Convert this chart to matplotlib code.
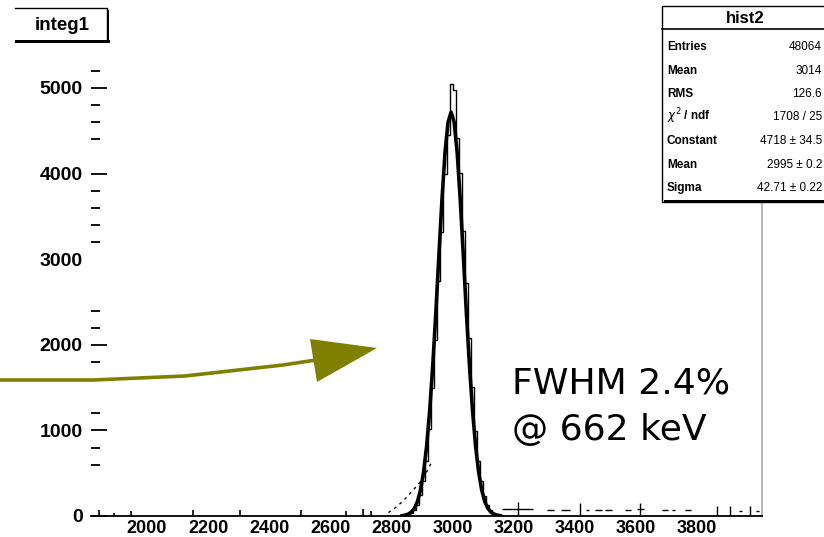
import numpy as np
import matplotlib
matplotlib.use("Agg")
import matplotlib.pyplot as plt
from matplotlib.patches import Rectangle, Polygon
from matplotlib.lines import Line2D
from matplotlib.transforms import Affine2D

# histogram hist2 (bin width 10)
hist_edges = list(range(2830, 3170, 10))
hist_counts = [10, 12, 22, 40, 70, 130, 240, 410, 640, 1020, 1500, 2060, 2740,
               3320, 3990, 4450, 5050, 4980, 4420, 4010, 3330, 2720, 2080, 1510,
               990, 640, 410, 230, 130, 70, 35, 18, 8]

# gaussian fit drawn as thick line
fit_x = [2835, 2845, 2855, 2865, 2875, 2885, 2895, 2905, 2915, 2925, 2935, 2945,
         2955, 2965, 2975, 2985, 2995, 3005, 3015, 3025, 3035, 3045, 3055, 3065,
         3075, 3085, 3095, 3105, 3115, 3125, 3135, 3145, 3155]
fit_y = [4, 10, 22, 46, 90, 170, 305, 515, 820, 1235, 1760, 2370, 3040, 3690,
         4240, 4600, 4718, 4600, 4240, 3690, 3040, 2370, 1760, 1235, 820, 515,
         305, 170, 90, 46, 22, 10, 4]

# dashed shoulder left of the peak
shoulder_x = [2790, 2810, 2830, 2850, 2870, 2890, 2910, 2930]
shoulder_y = [40, 90, 150, 220, 300, 380, 480, 620]

# small bins along the baseline
spike_x = [1843, 1892, 1948, 2150, 2304, 2503, 2650, 2706, 2732]
spike_y = [70, 40, 60, 70, 70, 70, 60, 80, 60]

# sparse tail on the right, drawn as error bars
tail_x = [3213, 3320, 3369, 3418, 3441, 3477, 3510, 3575, 3614, 3696, 3722,
          3771, 3866, 3908, 3941, 3974, 3997]
tail_y = [80, 70, 70, 80, 70, 70, 70, 70, 80, 70, 70, 70, 60, 60, 60, 60, 60]
tail_xerr = [50, 10, 15, 0, 5, 10, 10, 10, 12, 10, 5, 10, 0, 0, 5, 0, 5]
tail_yerr = [80, 0, 0, 70, 0, 0, 0, 0, 70, 0, 0, 0, 60, 60, 0, 60, 0]

y_major = [0, 1000, 2000, 3000, 4000, 5000]
y_minor = [600, 800, 1200, 1800, 2200, 2400, 3200, 3400, 3600, 3800,
           4400, 4600, 4800, 5200]
x_ticks = [2000, 2200, 2400, 2600, 2800, 3000, 3200, 3400, 3600, 3800]

stats_labels = ["Entries", "Mean", "RMS", r"$\chi^2$ / ndf", "Constant", "Mean", "Sigma"]
stats_values = ["48064", "3014", "126.6", "1708 / 25", "4718 \u00b1 34.5",
                "2995 \u00b1 0.2", "42.71 \u00b1 0.22"]

# arrow annotation (pixel coordinates, origin top-left)
arrow_path = [(0, 380), (93, 380), (185, 376), (283, 365), (316, 360)]
arrow_head = [(310, 339), (377, 348), (317, 382)]

W, H = 824, 537
fig = plt.figure(figsize=(W / 100, H / 100), dpi=100)
px = Affine2D().scale(1 / W, -1 / H).translate(0, 1) + fig.transFigure

ax = fig.add_axes([91 / W, (H - 516) / H, (762 - 91) / W, 516 / H])
ax.set_xlim(1817, 4012)
ax.set_ylim(0, 6028)

ax.stairs(hist_counts[:len(hist_edges) - 1], hist_edges, color="black", lw=1)
ax.plot(fit_x, fit_y, color="black", lw=2.6)
ax.plot(shoulder_x, shoulder_y, color="black", lw=1, ls=(0, (2, 3)))
ax.vlines(spike_x, 0, spike_y, color="black", lw=1.2)
ax.errorbar(tail_x, tail_y, xerr=tail_xerr, yerr=tail_yerr, fmt="none",
            ecolor="black", elinewidth=1, capsize=0)

for s in ["top", "left"]:
    ax.spines[s].set_visible(False)
ax.spines["bottom"].set_linewidth(1.3)
ax.spines["right"].set_color("#aaaaaa")
ax.spines["right"].set_linewidth(1.2)
ax.spines["right"].set_bounds(0, 3668)

ax.set_yticks(y_major)
ax.set_yticks(y_minor, minor=True)
ax.set_xticks(x_ticks)
ax.tick_params(axis="y", which="major", direction="in", length=11.5, width=1.3, pad=6)
ax.tick_params(axis="y", which="minor", direction="in", length=6.5, width=1.3)
ax.tick_params(axis="x", length=0, pad=3)
ax.yaxis.get_major_ticks()[3].tick1line.set_visible(False)
for lab in ax.get_yticklabels():
    lab.set_fontfamily("Liberation Sans")
    lab.set_fontweight("bold")
    lab.set_fontsize(14)
for lab in ax.get_xticklabels():
    lab.set_fontfamily("Liberation Sans")
    lab.set_fontweight("bold")
    lab.set_fontsize(13)

# title box "integ1"
fig.add_artist(Rectangle((15, 40), 95, 2.5, transform=px, color="black", lw=0))
fig.add_artist(Rectangle((107, 10), 2.5, 32, transform=px, color="black", lw=0))
fig.add_artist(Line2D([15, 107, 107], [8, 8, 39], transform=px, color="black", lw=1))
fig.text(62, 30, "integ1", transform=px, ha="center", va="baseline",
         fontfamily="Liberation Sans", fontweight="bold", fontsize=13.5)

# stats box
fig.add_artist(Rectangle((662, 6), 170, 196, transform=px, facecolor="white",
                         edgecolor="black", lw=1))
fig.add_artist(Rectangle((664, 200), 170, 3, transform=px, color="black", lw=0))
fig.add_artist(Line2D([662, 824], [29, 29], transform=px, color="black", lw=1.2))
fig.text(745, 23, "hist2", transform=px, ha="center", va="baseline",
         fontfamily="Liberation Sans", fontweight="bold", fontsize=12)
for i, (lab, val) in enumerate(zip(stats_labels, stats_values)):
    yb = 50 + i * 23.5
    fig.text(667, yb, lab, transform=px, ha="left", va="baseline",
             fontfamily="Liberation Sans", fontweight="bold", fontsize=8.5)
    fig.text(822, yb, val, transform=px, ha="right", va="baseline",
             fontfamily="Liberation Sans", fontsize=8.5)

# olive arrow
ax_x, ax_y = zip(*arrow_path)
fig.add_artist(Line2D(ax_x, ax_y, transform=px, color="#808000", lw=2.6,
                      solid_capstyle="butt"))
fig.add_artist(Polygon(arrow_head, closed=True, transform=px, color="#808000", lw=0))

fig.text(512, 393, "FWHM 2.4%", transform=px, ha="left", va="baseline",
         fontfamily="DejaVu Sans", fontsize=26)
fig.text(512, 440, "@ 662 keV", transform=px, ha="left", va="baseline",
         fontfamily="DejaVu Sans", fontsize=26)

fig.savefig("out.png", dpi=100)
